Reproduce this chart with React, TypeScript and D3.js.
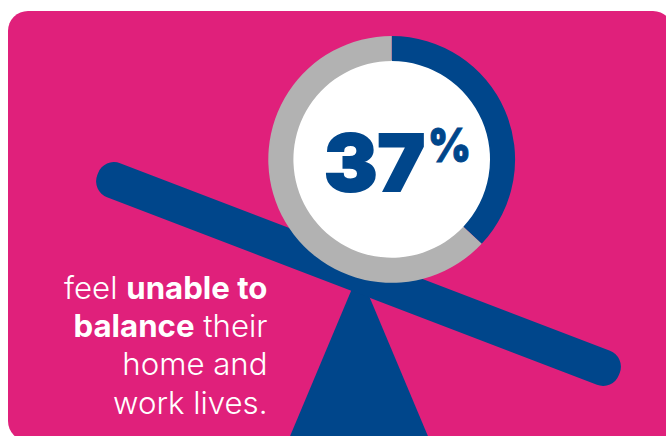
import React from "react";
import * as d3 from "d3";

// Share of respondents, and the remainder of the ring
const shareLabels = ["unable", "other"];
const shareValues = [37, 63];
const shareColors = ["#00468B", "#B2B2B2"];

const statValue = "37";
const statUnit = "%";

// Caption lines as [text, bold] runs
const captionLines: [string, boolean][][] = [
  [["feel ", false], ["unable to", true]],
  [["balance", true], [" their", false]],
  [["home and", false]],
  [["work lives.", false]],
];

const PINK = "#E0207B";
const BLUE = "#00468B";
const cx = 391.7;
const cy = 159.4;
const outerR = 123.4;
const innerR = 98.3;

export default function App() {
  const pie = d3.pie<number>().sort(null)(shareValues);
  const arc = d3.arc<d3.PieArcDatum<number>>().innerRadius(innerR).outerRadius(outerR);
  const beamLength = 558.6;
  const beamWidth = 36.5;
  const triangle = d3.line()([[359, 272], [288, 441], [430, 441]]) + "Z";

  return (
    <svg
      width={666}
      height={436}
      viewBox="0 0 666 436"
      style={{ position: "fixed", left: 0, top: 0, display: "block", background: "#fff" }}
    >
      <rect x={8} y={11} width={665} height={430} rx={20} ry={20} fill={PINK} />

      {/* Seesaw: pivot and tilted beam */}
      <path d={triangle ?? ""} fill={BLUE} />
      <g transform="translate(358.5 274) rotate(20.95)">
        <rect
          x={-beamLength / 2}
          y={-beamWidth / 2}
          width={beamLength}
          height={beamWidth}
          rx={17}
          ry={17}
          fill={BLUE}
        />
      </g>

      {/* Ring balanced on the beam */}
      <circle cx={cx} cy={cy} r={innerR + 1} fill="#fff" />
      <g transform={`translate(${cx} ${cy})`}>
        {pie.map((d, i) => (
          <path key={shareLabels[i]} d={arc(d) ?? ""} fill={shareColors[i]} />
        ))}
      </g>

      <text
        x={324}
        y={190.5}
        fontFamily="Inter, sans-serif"
        fontWeight={900}
        fontSize={79}
        fill={BLUE}
        stroke={BLUE}
        strokeWidth={2}
        strokeLinejoin="miter"
        textLength={101}
        lengthAdjust="spacingAndGlyphs"
      >
        {statValue}
      </text>
      <text
        x={428}
        y={162}
        fontFamily="Inter, sans-serif"
        fontWeight={900}
        fontSize={47}
        fill={BLUE}
        stroke={BLUE}
        strokeWidth={1}
        textLength={43}
        lengthAdjust="spacingAndGlyphs"
      >
        {statUnit}
      </text>

      {/* Right-aligned caption */}
      <g fontFamily="Inter, sans-serif" fontSize={31.2} fill="#fff" textAnchor="end">
        {captionLines.map((runs, i) => (
          <text key={i} x={267.5} y={298.5 + i * 38.4} xmlSpace="preserve">
            {runs.map(([t, bold], j) => (
              <tspan key={j} fontWeight={bold ? 700 : 350}>
                {t}
              </tspan>
            ))}
          </text>
        ))}
      </g>
    </svg>
  );
}
